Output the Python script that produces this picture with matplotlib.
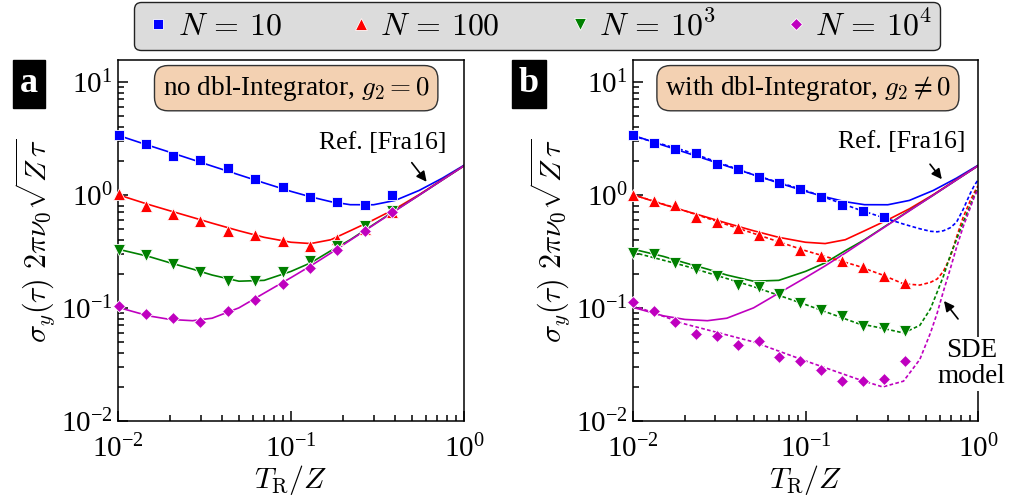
import numpy as np
import matplotlib
matplotlib.use('Agg')
import matplotlib.pyplot as plt
from matplotlib.lines import Line2D

plt.rcParams['font.family'] = ['Liberation Serif', 'DejaVu Serif']
plt.rcParams['mathtext.fontset'] = 'cm'

# Series labels and colours
labels = [r'$N\,=\,10$', r'$N\,=\,100$', r'$N\,=\,10^3$', r'$N\,=\,10^4$']
colors = ['#0000ff', '#ff0000', '#008000', '#bf00bf']
markers = ['s', '^', 'v', 'D']
msizes = [7.5, 8, 8, 6.5]

# Simulation points, panel a (no double integrator)
x_a = [0.0102, 0.0145, 0.0207, 0.0297, 0.0431, 0.0618, 0.0897, 0.1285, 0.184, 0.267, 0.383]
y_a = [
    [3.35, 2.83, 2.20, 2.01, 1.71, 1.37, 1.17, 0.95, 0.86, 0.81, 0.99],
    [1.01, 0.80, 0.67, 0.59, 0.48, 0.44, 0.39, 0.35, 0.41, 0.50, 0.71],
    [0.324, 0.293, 0.244, 0.206, 0.174, 0.174, 0.206, 0.258, 0.354, 0.53, 0.72],
    [0.103, 0.088, 0.0815, 0.0746, 0.0933, 0.118, 0.162, 0.224, 0.326, 0.48, 0.70],
]

# Simulation points, panel b (with double integrator)
x_b = [0.0100, 0.0132, 0.0175, 0.0231, 0.0306, 0.0404, 0.0534, 0.0706, 0.0933,
       0.1234, 0.163, 0.216, 0.285, 0.377]
y_b = [
    [3.35, 2.89, 2.55, 2.32, 1.86, 1.70, 1.42, 1.26, 1.13, 0.957, 0.81, 0.72, 0.63],
    [0.99, 0.88, 0.81, 0.63, 0.57, 0.51, 0.44, 0.40, 0.326, 0.285, 0.261, 0.228, 0.192, 0.165],
    [0.305, 0.299, 0.249, 0.220, 0.190, 0.159, 0.152, 0.133, 0.110, 0.0964, 0.0853, 0.0697, 0.066, 0.063],
    [0.112, 0.0946, 0.0756, 0.0589, 0.0562, 0.0474, 0.0514, 0.0367, 0.0336, 0.0285, 0.0225, 0.0228, 0.0236, 0.0342],
]

# Analytic curves of Ref. [Fra16]
ref_x = [0.01, 0.015, 0.02, 0.027, 0.035, 0.05, 0.07, 0.1, 0.13, 0.17, 0.22, 0.3, 0.4, 0.55, 0.75, 1.0]
ref_y = [
    [3.35, 2.73, 2.37, 2.04, 1.79, 1.50, 1.27, 1.07, 0.957, 0.867, 0.816, 0.815, 0.89, 1.09, 1.40, 1.82],
    [1.0, 0.82, 0.72, 0.63, 0.56, 0.48, 0.42, 0.38, 0.37, 0.40, 0.48, 0.60, 0.75, 1.0, 1.36, 1.80],
    [0.33, 0.285, 0.25, 0.22, 0.195, 0.172, 0.175, 0.21, 0.25, 0.32, 0.40, 0.545, 0.725, 0.99, 1.35, 1.80],
    [0.101, 0.085, 0.079, 0.077, 0.081, 0.100, 0.135, 0.185, 0.235, 0.305, 0.396, 0.54, 0.72, 0.99, 1.35, 1.80],
]

# SDE model curves with the double integrator
sde_x = [0.01, 0.02, 0.05, 0.1, 0.2, 0.28, 0.37, 0.46, 0.53, 0.58, 0.63, 0.69, 0.75, 0.82, 0.9, 0.95, 1.0]
sde_y = [
    [3.3, 2.45, 1.5, 1.09, 0.745, 0.63, 0.55, 0.50, 0.475, 0.47, 0.48, 0.51, 0.57, 0.74, 1.02, 1.2, 1.35],
    [1.0, 0.72, 0.455, 0.32, 0.235, 0.195, 0.163, 0.159, 0.168, 0.18, 0.21, 0.28, 0.42, 0.63, 0.88, 1.04, 1.2],
    [0.31, 0.235, 0.154, 0.107, 0.073, 0.066, 0.06, 0.07, 0.098, 0.138, 0.19, 0.29, 0.40, 0.57, 0.80, 0.98, 1.15],
    [0.105, 0.072, 0.05, 0.034, 0.0235, 0.020, 0.0225, 0.035, 0.06, 0.09, 0.14, 0.22, 0.34, 0.52, 0.76, 0.95, 1.12],
]

fig = plt.figure(figsize=(10.11, 4.96), dpi=100)
ax_a = fig.add_axes([118 / 1011, 0.1512, 346 / 1011, 0.7278])
ax_b = fig.add_axes([633 / 1011, 0.1512, 345 / 1011, 0.7278])

for ax in (ax_a, ax_b):
    for i in range(4):
        ax.plot(ref_x, ref_y[i], '-', color=colors[i], lw=1.2, zorder=2)
    ax.set_xscale('log')
    ax.set_yscale('log')
    ax.set_xlim(1e-2, 1)
    ax.set_ylim(1e-2, 15.5)
    ax.tick_params(which='both', direction='in', right=False, top=False,
                   labelsize=21, width=1.1)
    ax.tick_params(which='major', length=7)
    ax.tick_params(which='minor', length=4)
    ax.tick_params(axis='x', pad=10)
    ax.tick_params(axis='y', pad=4)
    for s in ax.spines.values():
        s.set_linewidth(1.1)
    ax.set_xlabel(r'$T_{\mathrm{R}}/Z$', fontsize=21.5, labelpad=0)
    ax.set_ylabel(r'$\sigma_y(\tau)\ 2\pi\nu_0\sqrt{Z\,\tau}$', fontsize=21.5, labelpad=2)

# panel a: markers only on top of the analytic curves
for i in range(4):
    ax_a.plot(x_a, y_a[i], ls='none', marker=markers[i], ms=msizes[i], color=colors[i],
              mec='white', mew=0.6, zorder=3, clip_on=False)

# panel b: SDE model dashed plus simulation points
for i in range(4):
    ax_b.plot(sde_x, sde_y[i], color=colors[i], lw=1.2, ls=(0, (2.2, 1.4)), zorder=2)
    ax_b.plot(x_b[:len(y_b[i])], y_b[i], ls='none', marker=markers[i], ms=msizes[i],
              color=colors[i], mec='white', mew=0.6, zorder=3, clip_on=False)

box = dict(boxstyle='round,pad=0.3,rounding_size=0.5', fc='#f3d1b2', ec='#333333', lw=1)
ax_a.text(0.515, 0.922, r'no dbl-Integrator, $g_2=0$', transform=ax_a.transAxes,
          ha='center', va='center', fontsize=19.5, bbox=box, zorder=5)
ax_b.text(0.507, 0.922, r'with dbl-Integrator, $g_2\neq0$', transform=ax_b.transAxes,
          ha='center', va='center', fontsize=19.5, bbox=box, zorder=5)

arrow = dict(arrowstyle='-|>', color='black', lw=1.2, mutation_scale=15,
             shrinkA=0, shrinkB=0)
ax_a.text(0.34, 2.85, 'Ref. [Fra16]', fontsize=18.5, ha='center', va='center')
ax_a.annotate('', xy=(0.608, 1.30), xytext=(0.499, 1.92), arrowprops=arrow)
ax_b.text(0.36, 2.9, 'Ref. [Fra16]', fontsize=18.5, ha='center', va='center')
ax_b.annotate('', xy=(0.617, 1.37), xytext=(0.527, 1.86), arrowprops=arrow)
ax_b.text(0.92, 0.032, 'SDE\nmodel', fontsize=19.5, ha='center', va='center',
          linespacing=1.05, clip_on=False, zorder=6,
          bbox=dict(boxstyle='square,pad=0.05', fc='white', ec='none'))
ax_b.annotate('', xy=(0.635, 0.115), xytext=(0.766, 0.0798), arrowprops=arrow)

# panel letters
for xp, letter in ((29, 'a'), (529, 'b')):
    fig.text(xp / 1011, 1 - 84 / 496, letter, color='white', fontsize=26, fontweight='bold',
             ha='center', va='center',
             bbox=dict(boxstyle='square,pad=0.2', fc='black', ec='black'))

handles = [Line2D([], [], ls='none', marker=markers[i], ms=msizes[i], color=colors[i],
                  mec='white', mew=0.6) for i in range(4)]
fig.legend(handles, labels, loc='upper center', bbox_to_anchor=(537 / 1011, 0.995), ncol=4,
           fontsize=23, frameon=True, fancybox=True, facecolor='#dcdcdc', edgecolor='#222222',
           framealpha=1, handletextpad=0.1, columnspacing=2.0, handlelength=1.0,
           borderpad=0.25, borderaxespad=0)

fig.savefig('out.png', dpi=100)
